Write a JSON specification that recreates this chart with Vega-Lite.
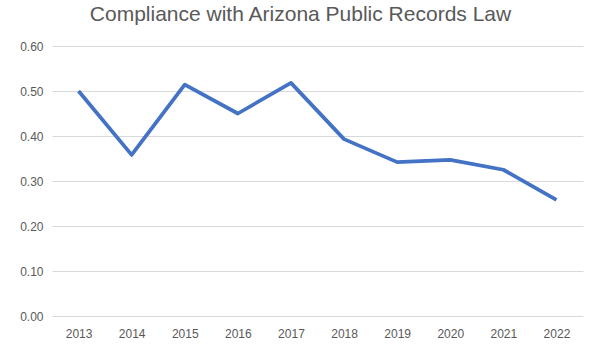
{
  "$schema": "https://vega.github.io/schema/vega-lite/v6.json",
  "width": 531,
  "height": 270,
  "autosize": {"type": "none"},
  "padding": {"left": 52, "top": 46, "right": 17, "bottom": 44},
  "background": "white",
  "title": {
    "text": "Compliance with Arizona Public Records Law",
    "font": "Liberation Sans",
    "fontSize": 21,
    "fontWeight": "normal",
    "color": "#595959",
    "anchor": "middle",
    "dx": -17,
    "offset": 15
  },
  "data": {
    "values": [
      {"year": "2013", "value": 0.500},
      {"year": "2014", "value": 0.358},
      {"year": "2015", "value": 0.514},
      {"year": "2016", "value": 0.450},
      {"year": "2017", "value": 0.518},
      {"year": "2018", "value": 0.393},
      {"year": "2019", "value": 0.342},
      {"year": "2020", "value": 0.347},
      {"year": "2021", "value": 0.325},
      {"year": "2022", "value": 0.258}
    ]
  },
  "mark": {"type": "line", "color": "#4472C4", "strokeWidth": 3.75, "strokeJoin": "round"},
  "encoding": {
    "x": {
      "field": "year",
      "type": "ordinal",
      "scale": {"type": "point", "padding": 0.5},
      "axis": {
        "title": null,
        "labelAngle": 0,
        "domain": false,
        "ticks": false,
        "grid": false,
        "labelPadding": 12,
        "labelFont": "Liberation Sans",
        "labelFontSize": 12,
        "labelColor": "#595959"
      }
    },
    "y": {
      "field": "value",
      "type": "quantitative",
      "scale": {"domain": [0, 0.6], "nice": false},
      "axis": {
        "title": null,
        "values": [0, 0.1, 0.2, 0.3, 0.4, 0.5, 0.6],
        "format": ".2f",
        "domain": false,
        "ticks": false,
        "gridColor": "#d9d9d9",
        "gridWidth": 1,
        "labelPadding": 9,
        "labelFont": "Liberation Sans",
        "labelFontSize": 12,
        "labelColor": "#595959"
      }
    }
  },
  "config": {"view": {"stroke": null}}
}
